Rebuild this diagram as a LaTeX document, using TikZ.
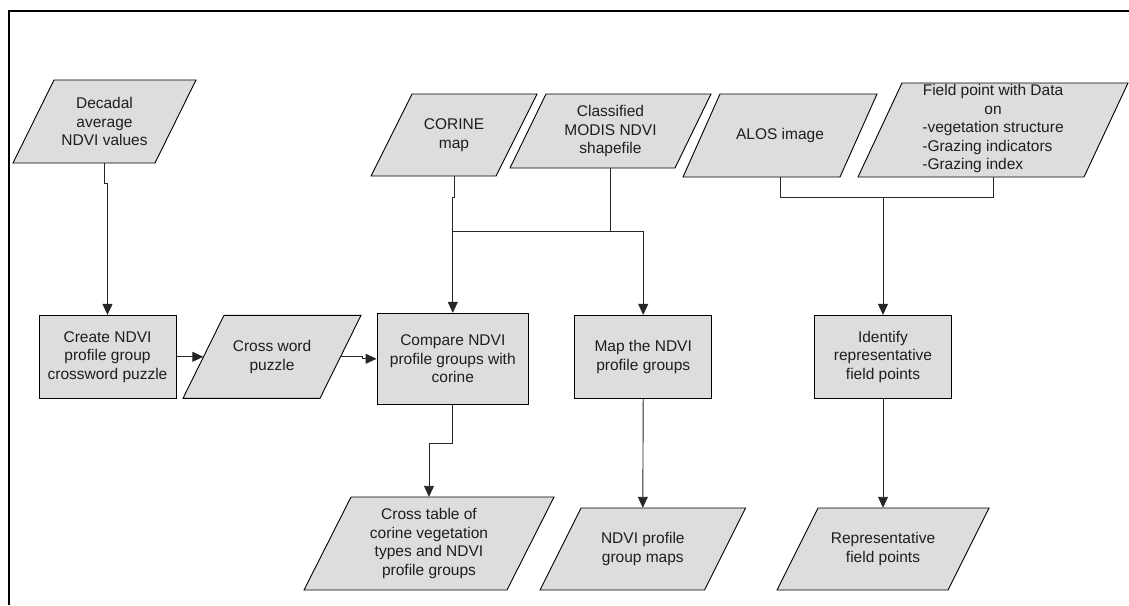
\documentclass[tikz,border=0pt]{standalone}
\usepackage{fontspec}
\setmainfont{Liberation Sans}
\usetikzlibrary{arrows.meta,calc}

\definecolor{boxgray}{RGB}{221,221,221}
\definecolor{inkgray}{RGB}{30,30,30}

% Data (input/output) symbol: a parallelogram drawn first, then a named,
% invisible node of the same bounding box carrying the text.
% #1 name, #2 centre x, #3 centre y, #4 box width, #5 box height, #6 slant, #7 text
\newcommand\iosymbol[7]{%
  \filldraw[iobody]
    ({#2-#4/2+#6},{#3-#5/2}) -- ({#2+#4/2},{#3-#5/2}) --
    ({#2+#4/2-#6},{#3+#5/2}) -- ({#2-#4/2},{#3+#5/2}) -- cycle;
  \node[iotext, minimum width=#4pt, minimum height=#5pt] (#1) at (#2,#3) {#7};
}

\begin{document}
\begin{tikzpicture}[x=1pt, y=-1pt,
  txt/.style={font=\fontsize{15.5}{18.5}\selectfont, text=inkgray, align=center},
  iobody/.style={fill=boxgray, draw=black, line width=0.9pt},
  iotext/.style={txt, shape=rectangle, inner sep=0pt},
  procbox/.style={txt, shape=rectangle, draw=black, fill=boxgray, line width=0.9pt, inner sep=0pt},
  link/.style={draw=black!85, line width=0.9pt},
  conn/.style={link, -{Triangle[length=11pt, width=10pt]}},
  frame/.style={draw=black, line width=2.5pt}
]
\useasboundingbox (0,0) rectangle (1129,605);

% outer frame (open at right and bottom)
\draw[frame] (9,605) -- (9,11) -- (1129,11);

% input data
\iosymbol{dec}{104.5}{121.5}{183}{83}{41}{Decadal\\average\\NDVI values}
\iosymbol{corine}{454}{135}{166}{82}{41}{CORINE\\map}
\iosymbol{modis}{610.5}{131}{201}{74}{36}{Classified\\MODIS NDVI\\shapefile}
\iosymbol{alos}{780}{135.5}{194}{83}{37}{ALOS image}
\iosymbol{field}{993}{130}{270}{94}{44}{Field point with Data\\on\\%
  \begin{tabular}[t]{@{}l@{}}-vegetation structure\\-Grazing indicators\\-Grazing index\end{tabular}}

% processing steps
\node[procbox, minimum width=137pt, minimum height=83pt] (create) at (107.5,356.8)
  {Create NDVI\\profile group\\crossword puzzle};
\iosymbol{cw}{272}{356.8}{178}{83}{41}{Cross word\\puzzle}
\node[procbox, minimum width=151.6pt, minimum height=91pt] (compare) at (452.8,358.8)
  {Compare NDVI\\profile groups with\\corine};
\node[procbox, minimum width=137pt, minimum height=83pt] (map) at (643.2,356.8)
  {Map the NDVI\\profile groups};
\node[procbox, minimum width=137.5pt, minimum height=83pt] (identify) at (883,356.8)
  {Identify\\representative\\field points};

% outputs
\iosymbol{ctab}{429}{543.5}{250}{93}{47}{Cross table of\\corine vegetation\\types and NDVI\\profile groups}
\iosymbol{maps}{642.8}{549}{205.5}{82}{41}{NDVI profile\\group maps}
\iosymbol{rep}{883}{549}{212}{82}{41}{Representative\\field points}

% connectors
\draw[conn] (dec.south) -- ++(0,20) -| (create.north);
\draw[conn] (create.east) -- ([xshift=20.5pt]cw.west);
\draw[conn] ([xshift=-20.5pt]cw.east) -- ++(22,0) |- (compare.west);

\draw[conn] (corine.south) -- ++(0,21) -| (compare.north);
\draw[conn] (modis.south) -- ++(0,63) coordinate (jm) -| (map.north);
\draw[link] (compare.north |- jm) -- (jm);

\draw[link] (alos.south) -- ++(0,20) coordinate (ja) -| (field.south);
\draw[conn] (ja -| identify.north) -- (identify.north);

\draw[conn] (compare.south) -- ++(0,39) -| (ctab.north);
\draw[conn] (map.south) -- (maps.north);
\draw[conn] (identify.south) -- (rep.north);
\end{tikzpicture}
\end{document}
